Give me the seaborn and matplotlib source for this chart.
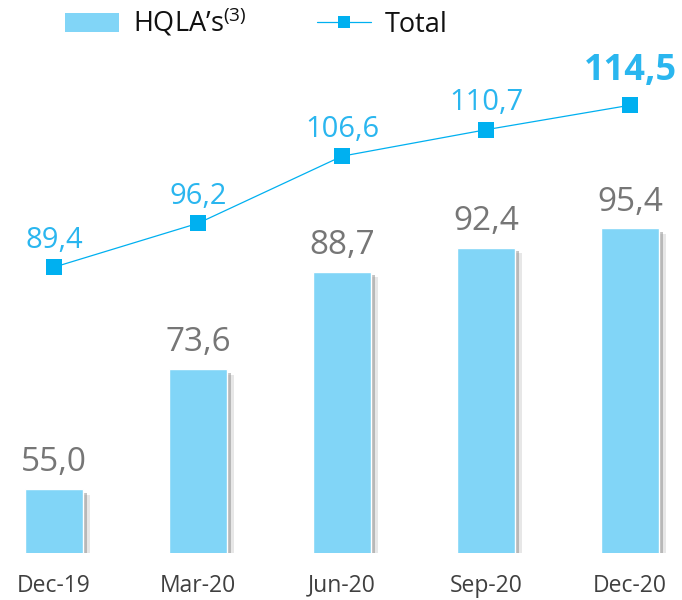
import matplotlib
matplotlib.use("Agg")
import matplotlib.pyplot as plt
import matplotlib.patheffects as pe
from matplotlib.patches import Patch
from matplotlib.lines import Line2D
import seaborn as sns

# ── Data ──────────────────────────────────────────────────────────────────────
periods = ["Dec-19", "Mar-20", "Jun-20", "Sep-20", "Dec-20"]
hqla = [55.0, 73.6, 88.7, 92.4, 95.4]
total = [89.4, 96.2, 106.6, 110.7, 114.5]

BAR_BLUE = "#81D5F7"
LINE_BLUE = "#00B0F0"
LABEL_BLUE = "#2AB6EF"
GREY = "#767676"

def fmt(v):
    return f"{v:.1f}".replace(".", ",")

# ── Style ─────────────────────────────────────────────────────────────────────
sns.set_theme(style="white")
plt.rcParams["font.family"] = ["Open Sans", "DejaVu Sans"]
plt.rcParams["mathtext.fontset"] = "custom"
plt.rcParams["mathtext.rm"] = "Open Sans"

fig = plt.figure(figsize=(6.82, 6.0), dpi=100)
ax = fig.add_axes([0, 0.0783, 1, 0.855])

sns.barplot(x=periods, y=hqla, color=BAR_BLUE, saturation=1, width=0.4, ax=ax)
for bar in ax.patches:
    bar.set_path_effects([
        pe.SimplePatchShadow(offset=(5, -4), shadow_rgbFace="#b0b0b0", alpha=0.3),
        pe.SimplePatchShadow(offset=(3, -2.5), shadow_rgbFace="#8a8a8a", alpha=0.5),
        pe.Normal(),
    ])

sns.lineplot(x=periods, y=total, sort=False, color=LINE_BLUE, lw=0.9,
             marker="s", markersize=12, markeredgewidth=0, ax=ax)

ax.set_xlim(-0.375, 4.36)
ax.set_ylim(45.1, 124.6)

for i, v in enumerate(hqla):
    ax.annotate(fmt(v), (i, v), xytext=(0, 7), textcoords="offset points",
                ha="center", va="bottom", fontsize=24, color=GREY)

for i, v in enumerate(total):
    last = i == len(total) - 1
    ax.annotate(fmt(v), (i, v), xytext=(0, 12 if last else 9), textcoords="offset points",
                ha="center", va="bottom", color=LABEL_BLUE,
                fontsize=26 if last else 21, fontweight="bold" if last else "normal")

sns.despine(ax=ax, left=True, bottom=True)
ax.set_yticks([])
ax.set_xlabel("")
ax.tick_params(axis="x", length=0, pad=15, labelsize=16.5, labelcolor="#404040")

handles = [
    Patch(facecolor=BAR_BLUE, edgecolor="none"),
    Line2D([], [], color=LINE_BLUE, lw=0.9, marker="s", markersize=9, markeredgewidth=0),
]
fig.legend(handles, ["HQLA’s$^{\\mathregular{(3)}}$", "Total"],
           loc="upper left", bbox_to_anchor=(0.06, 1.03), ncol=2, frameon=False,
           fontsize=19.5, handlelength=2.0, handletextpad=0.5, columnspacing=2.6,
           labelcolor="#111111")

fig.savefig("out.png", dpi=100)
